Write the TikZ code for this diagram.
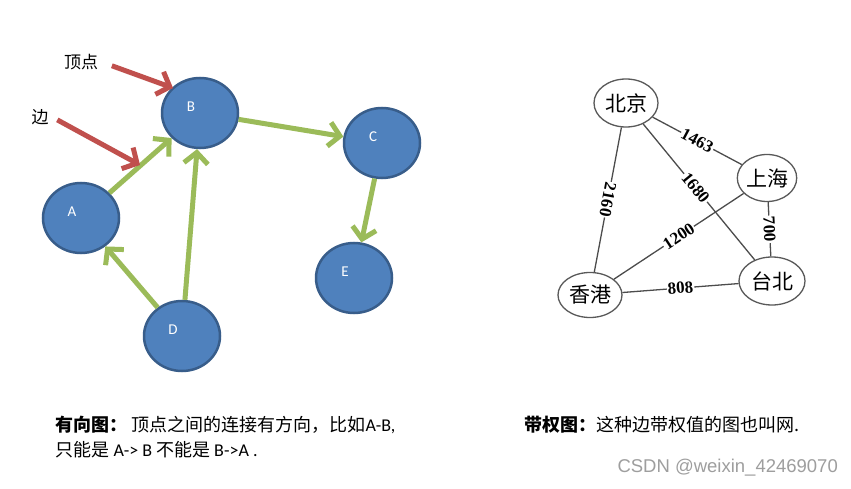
\documentclass[tikz,border=0pt]{standalone}
\usepackage{fontspec}
\setmainfont{Carlito}
\newfontfamily\cjk{Noto Sans CJK SC}
\newfontfamily\numfont{Liberation Serif}
\newfontfamily\wmfont{Liberation Sans}
\usetikzlibrary{arrows.meta,shapes.geometric}

\definecolor{vtxfill}{HTML}{4F81BD}
\definecolor{vtxline}{HTML}{385D8A}
\definecolor{edgegreen}{HTML}{9BBB59}
\definecolor{ptrred}{HTML}{C0504D}

\begin{document}
\begin{tikzpicture}[x=1pt, y=-1pt,
  vtx/.style={ellipse, draw=vtxline, fill=vtxfill, line width=2.5pt, minimum width=76pt, minimum height=70pt, inner sep=0pt},
  ltr/.style={text=white, font=\fontsize{15}{15}\selectfont, xshift=-9pt, yshift=6pt},
  dir/.style={draw=edgegreen, line width=5pt, -{Straight Barb[length=11pt,width=24pt]}},
  ptr/.style={draw=ptrred, line width=5pt, -{Straight Barb[length=11pt,width=24pt]}},
  note/.style={font=\cjk\fontsize{17}{17}\selectfont},
  city/.style={ellipse, draw=black!65, fill=white, line width=1.3pt, minimum width=64pt, minimum height=48pt, inner sep=0pt, font=\cjk\fontsize{21}{21}\selectfont},
  road/.style={draw=black!70, line width=1.3pt},
  wgt/.style={fill=white, inner sep=1pt, sloped, font=\numfont\bfseries\fontsize{17}{17}\selectfont},
  capt/.style={anchor=west, align=left, font=\cjk\fontsize{18}{25}\selectfont}]

\fill[white] (0,0) rectangle (851,489);

% directed graph
\node[vtx, label={[ltr]center:B}] (B) at (200,113) {};
\node[vtx, label={[ltr]center:C}] (C) at (382,143) {};
\node[vtx, label={[ltr]center:A}] (A) at (81,218) {};
\node[vtx, label={[ltr]center:E}] (E) at (354,278) {};
\node[vtx, label={[ltr]center:D}] (D) at (182,336) {};

\node[note] (vlab) at (81,62) {顶点};
\node[note] (elab) at (40,117) {边};
\coordinate (vtip) at (173,88);
\coordinate (etip) at (140,165);

\draw[dir] (A) -- (B);
\draw[dir] (D) -- (B);
\draw[dir] (D) -- (A);
\draw[dir] (B) -- (C);
\draw[dir] (C) -- (E);
\draw[ptr, shorten <=11pt] (vlab.east) -- (vtip);
\draw[ptr, shorten <=6pt] (elab.east) -- (etip);

% weighted graph
\node[city] (bj) at (626,103) {北京};
\node[city, minimum width=56pt, minimum height=47pt] (sh) at (767,178) {上海};
\node[city, minimum width=66pt] (tb) at (772,281) {台北};
\node[city, minimum height=45pt] (hk) at (590,295) {香港};

\draw[road] (bj) -- node[wgt] {1463} (sh);
\draw[road] (bj) -- node[wgt, allow upside down] {2160} (hk);
\draw[road] (bj) -- node[wgt, pos=0.47] {1680} (tb);
\draw[road] (hk) -- node[wgt] {1200} (sh);
\draw[road] (sh) -- node[wgt] {700} (tb);
\draw[road] (hk) -- node[wgt] {808} (tb);

% captions
\node[capt] (dcap) at (52,437) {\textbf{有向图：}\hspace{4pt}顶点之间的连接有方向，比如{\rmfamily A-B,}\\只能是 {\rmfamily A-> B} 不能是 {\rmfamily B->A .}};
\node[capt] (wcap) at (521,425) {\textbf{带权图：}这种边带权值的图也叫网.};
\node[anchor=west, text=black!38, font=\wmfont\fontsize{18.5}{18.5}\selectfont] (wm) at (614,468) {CSDN @weixin\_42469070};
\end{tikzpicture}
\end{document}
